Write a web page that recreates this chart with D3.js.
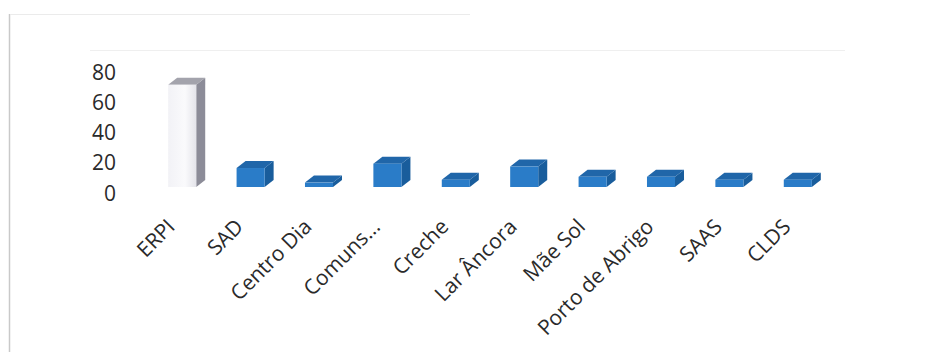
<!DOCTYPE html>
<html>
<head>
<meta charset="utf-8">
<script src="https://cdn.jsdelivr.net/npm/d3@7"></script>
<style>
  body { margin: 0; background: #fff; }
  text { font-family: "Open Sans", sans-serif; fill: #2a2a2a; }
</style>
</head>
<body>
<div id="container"></div>
<script>
var categories = ["ERPI", "SAD", "Centro Dia", "Comuns...", "Creche", "Lar Âncora", "Mãe Sol", "Porto de Abrigo", "SAAS", "CLDS"];
var values = [70, 13, 3, 16, 5, 14, 7, 7, 5, 5];
var ticks = [0, 20, 40, 60, 80];

var width = 932, height = 352;
var svg = d3.select("#container").append("svg")
    .attr("width", width)
    .attr("height", height);

// chart frame (scan only shows left and top edges)
svg.append("line").attr("x1", 9.5).attr("x2", 9.5).attr("y1", 14).attr("y2", height)
    .attr("stroke", "#c9c9c9").attr("stroke-width", 1.5);
svg.append("line").attr("x1", 10).attr("x2", 470).attr("y1", 14.5).attr("y2", 14.5)
    .attr("stroke", "#ebebeb");
svg.append("line").attr("x1", 90).attr("x2", 845).attr("y1", 50.5).attr("y2", 50.5)
    .attr("stroke", "#efefef");

var x = d3.scaleBand()
    .domain(categories)
    .range([148, 832])
    .paddingInner(0.59)
    .paddingOuter(0.295);

// axis labels sit on the back wall, bars front faces on the floor edge
var y = d3.scaleLinear().domain([0, 80]).range([193.5, 72.5]);
var yFront = d3.scaleLinear().domain([0, 80]).range([187, 187 - 80 * 1.46]);

var dx = 9, dy = 7;

var yAxis = svg.append("g")
    .attr("transform", "translate(119,0)")
    .call(d3.axisLeft(y).tickValues(ticks).tickSize(0).tickPadding(3));
yAxis.select(".domain").remove();
yAxis.selectAll("text")
    .style("font-size", "21px")
    .attr("fill", "#2a2a2a");

var defs = svg.append("defs");
var grad = defs.append("linearGradient").attr("id", "erpiFront")
    .attr("x1", "0").attr("x2", "1").attr("y1", "0").attr("y2", "0");
grad.append("stop").attr("offset", "0").attr("stop-color", "#f2f2f6");
grad.append("stop").attr("offset", "0.6").attr("stop-color", "#fafafc");
grad.append("stop").attr("offset", "1").attr("stop-color", "#e4e4ea");

var colors = function(i){
    if (i == 0) return { front: "url(#erpiFront)", side: "#8c8c98", top: "#a3a3ac" };
    return { front: "#2a7cc8", side: "#195d9c", top: "#2066a9" };
};

var bars = svg.append("g");
categories.forEach(function(c, i){
    var x0 = x(c), x1 = x(c) + x.bandwidth();
    var yb = yFront(0), yt = yFront(values[i]);
    var col = colors(i);
    var g = bars.append("g");
    g.append("polygon")
        .attr("points", [[x1, yb], [x1 + dx, yb - dy], [x1 + dx, yt - dy], [x1, yt]].join(" "))
        .attr("fill", col.side);
    g.append("polygon")
        .attr("points", [[x0, yt], [x0 + dx, yt - dy], [x1 + dx, yt - dy], [x1, yt]].join(" "))
        .attr("fill", col.top);
    g.append("rect")
        .attr("x", x0).attr("y", yt)
        .attr("width", x.bandwidth()).attr("height", yb - yt)
        .attr("fill", col.front);
});

var labels = svg.append("g");
categories.forEach(function(c){
    var cx = x(c) + x.bandwidth() / 2 - 6;
    var cy = 228;
    labels.append("text")
        .attr("x", cx).attr("y", cy)
        .attr("text-anchor", "end")
        .attr("transform", "rotate(-45," + cx + "," + cy + ")")
        .style("font-size", "21px")
        .text(c);
});
</script>
</body>
</html>
